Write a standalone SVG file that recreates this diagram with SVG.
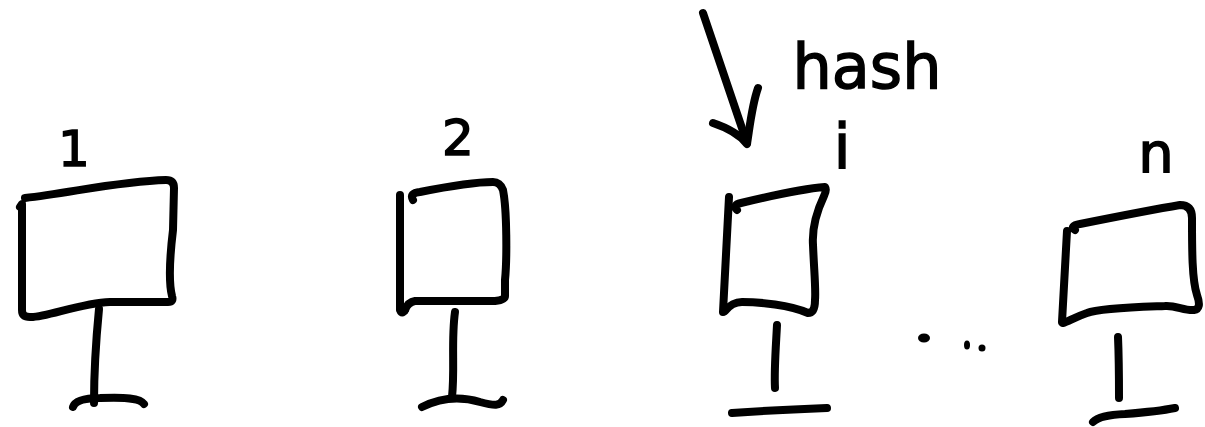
<svg xmlns="http://www.w3.org/2000/svg" width="1205" height="427" viewBox="0 0 1205 427">
<style>
.pen{fill:none;stroke:#000;stroke-width:8;stroke-linecap:round;stroke-linejoin:round}
.lbl{font-family:"DejaVu Sans",sans-serif;fill:#000;stroke:#000;stroke-width:1.5;text-anchor:middle}
</style>
<rect width="1205" height="427" fill="#fff"/>
<g id="node-1">
<path class="pen" d="M25,198 C70,193 120,181 166,180 Q174,180 174,188 L173,230 C170,255 168,280 172,296 Q174,302 168,302 L110,302 C80,303 45,318 30,317 Q22,317 22,310 L22,204 L20,207"/>
<path class="pen" d="M99,309 C96,340 94,370 94,403"/>
<path class="pen" d="M73,407 Q76,398 100,398 C125,397 140,398 144,404"/>
<text class="lbl" x="74" y="166" font-size="50">1</text>
</g>
<g id="node-2">
<path class="pen" d="M413,200 Q409,193 420,192 C440,188 470,182 493,182 Q500,182 503,190 C507,210 507,260 505,280 L505,296 Q505,300 495,301 L415,301 Q408,302 405,310"/>
<path class="pen" d="M400,195 L400,310 Q402,315 405,310"/>
<path class="pen" d="M455,312 C451,340 455,370 452,397"/>
<path class="pen" d="M422,407 C440,398 460,396 480,402 C495,406 500,406 503,400"/>
<text class="lbl" x="458" y="155" font-size="50">2</text>
</g>
<g id="node-i">
<path class="pen" d="M737,210 Q732,205 741,203 C770,196 800,189 825,187 Q827,190 824,196 C815,215 812,230 813,245 C814,270 816,290 815,300 Q815,313 808,313 C790,305 760,302 742,302 Q732,302 725,311"/>
<path class="pen" d="M729,197 L723,312"/>
<path class="pen" d="M777,325 C776,345 774,370 775,388"/>
<path class="pen" d="M732,413 C760,411 800,409 827,408"/>
<text class="lbl" x="842" y="168" font-size="62">i</text>
</g>
<g id="node-n">
<path class="pen" d="M1075,230 Q1069,226 1080,224 C1110,218 1150,210 1180,205 Q1192,205 1192,218 C1192,250 1192,280 1197,295 Q1202,309 1194,310 C1185,311 1175,305 1165,306 C1140,307 1100,308 1087,313 C1075,317 1068,322 1063,323"/>
<path class="pen" d="M1067,231 L1062,322"/>
<path class="pen" d="M1118,337 C1119,360 1119,380 1119,398"/>
<path class="pen" d="M1093,422 Q1100,415 1125,414 C1150,412 1165,410 1175,408"/>
<text class="lbl" x="1156" y="172" font-size="56">n</text>
</g>
<g id="ellipsis">
<ellipse cx="924" cy="338" rx="6" ry="4.5" fill="#000"/>
<ellipse cx="967" cy="345" rx="3" ry="4.5" fill="#000"/>
<ellipse cx="982" cy="348" rx="3.5" ry="3.5" fill="#000"/>
</g>
<g id="connectors">
<path class="pen" d="M703,13 L747,143"/>
<path class="pen" d="M713,123 C728,128 740,135 747,144 C750,125 752,105 758,88"/>
<text class="lbl" x="867" y="88" font-size="62">hash</text>
</g>
</svg>
